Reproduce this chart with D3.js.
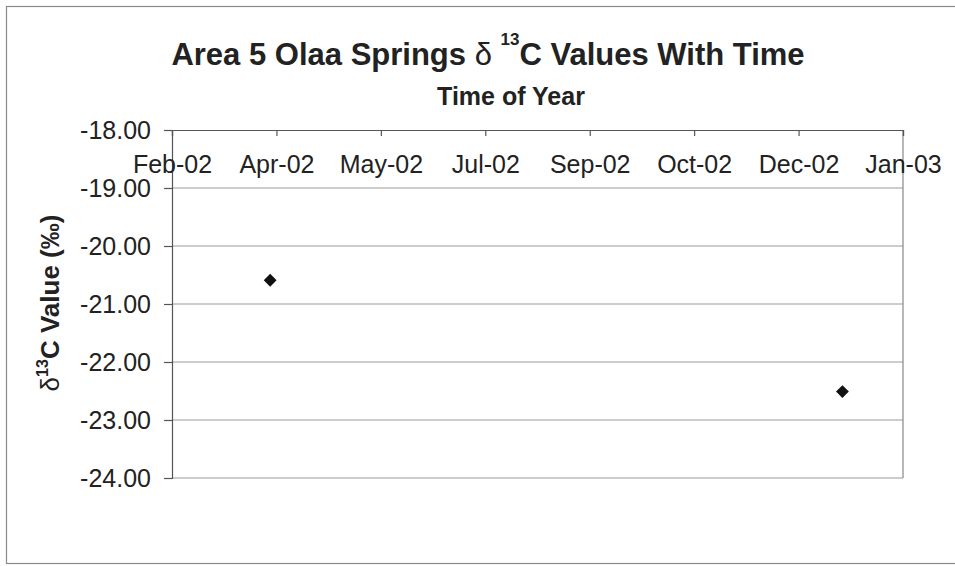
<!DOCTYPE html>
<html>
<head>
<meta charset="utf-8">
<script src="https://cdn.jsdelivr.net/npm/d3@7"></script>
<style>
  body { margin: 0; background: #fff; }
  text { font-family: "Liberation Sans", Arial, sans-serif; fill: #222; }
</style>
</head>
<body>
<div id="chart"></div>
<script>
//Width and height
var w = 955;
var h = 566;
var plot = { left: 172, right: 903, top: 130, bottom: 478 };

//Data
var sampleDates = ["2002-04-02", "2003-01-01"];
var sampleValues = [-20.59, -22.51];

//Axis ticks (Excel date axis, 50 day major unit)
var xTickDates = ["2002-02-14", "2002-04-05", "2002-05-25", "2002-07-14",
                  "2002-09-02", "2002-10-22", "2002-12-11", "2003-01-30"];
var yTicks = [-18, -19, -20, -21, -22, -23, -24];

var parseDate = d3.utcParse("%Y-%m-%d");
var fmtDate = d3.utcFormat("%b-%y");

var dataset = sampleDates.map(function (d, i) {
    return { date: parseDate(d), value: sampleValues[i] };
});
var xTicks = xTickDates.map(parseDate);

//Scales
var xScale = d3.scaleUtc()
    .domain([xTicks[0], xTicks[xTicks.length - 1]])
    .range([plot.left, plot.right]);

var yScale = d3.scaleLinear()
    .domain([-24, -18])
    .range([plot.bottom, plot.top]);

var svg = d3.select("#chart")
    .append("svg")
    .attr("width", w)
    .attr("height", h);

//Chart area border (right edge runs off the page)
svg.append("rect")
    .attr("x", 6.5)
    .attr("y", 6.5)
    .attr("width", 1000)
    .attr("height", 557)
    .attr("fill", "none")
    .attr("stroke", "#8a8a8a")
    .attr("stroke-width", 1.2);

//Gridlines
svg.append("g")
    .selectAll("line")
    .data(yTicks.filter(function (d) { return d !== -18; }))
    .enter()
    .append("line")
    .attr("x1", plot.left)
    .attr("x2", plot.right)
    .attr("y1", function (d) { return yScale(d); })
    .attr("y2", function (d) { return yScale(d); })
    .attr("stroke", "#9a9a9a")
    .attr("stroke-width", 1);

//Plot border right
svg.append("line")
    .attr("x1", plot.right).attr("x2", plot.right)
    .attr("y1", plot.top).attr("y2", plot.bottom)
    .attr("stroke", "#888").attr("stroke-width", 1.2);

//Y axis
var yAxis = d3.axisLeft(yScale)
    .tickValues(yTicks)
    .tickSize(8)
    .tickPadding(13)
    .tickFormat(d3.format(".2f"));

var gy = svg.append("g")
    .attr("class", "y axis")
    .attr("transform", "translate(" + plot.left + ",0)")
    .call(yAxis);
gy.select(".domain").attr("stroke", "#555").attr("stroke-width", 1.2);
gy.selectAll(".tick line").attr("stroke", "#555").attr("stroke-width", 1.2);
gy.selectAll("text")
    .attr("font-size", "25px")
    .attr("fill", "#222")
    .text(function (d) { return d3.format(".2f")(d).replace("−", "-"); });

//X axis along the top, labels sit inside the plot
var xAxis = d3.axisTop(xScale)
    .tickValues(xTicks)
    .tickSize(-6)
    .tickFormat(fmtDate);

var gx = svg.append("g")
    .attr("class", "x axis")
    .attr("transform", "translate(0," + plot.top + ")")
    .call(xAxis);
gx.select(".domain").attr("stroke", "#555").attr("stroke-width", 1.2);
gx.selectAll(".tick line").attr("stroke", "#555").attr("stroke-width", 1.2);
gx.selectAll("text")
    .attr("font-size", "25px")
    .attr("fill", "#222")
    .attr("y", 43)
    .attr("dy", 0);

//Markers
svg.append("g")
    .selectAll("path")
    .data(dataset)
    .enter()
    .append("path")
    .attr("d", d3.symbol().type(d3.symbolDiamond2).size(105))
    .attr("transform", function (d) {
        return "translate(" + xScale(d.date) + "," + yScale(d.value) + ")";
    })
    .attr("fill", "#111");

//Title
var title = svg.append("text")
    .attr("x", 488)
    .attr("y", 65)
    .attr("text-anchor", "middle")
    .attr("font-size", "31px")
    .attr("font-weight", "bold");
title.append("tspan").text("Area 5 Olaa Springs ");
title.append("tspan").attr("font-weight", "normal").text("δ ");
title.append("tspan").attr("font-size", "17px").attr("dy", -20).text("13");
title.append("tspan").attr("dy", 20).text("C Values With Time");

//X axis title
svg.append("text")
    .attr("x", 511)
    .attr("y", 105)
    .attr("text-anchor", "middle")
    .attr("font-size", "25px")
    .attr("font-weight", "bold")
    .text("Time of Year");

//Y axis title
var ylab = svg.append("text")
    .attr("transform", "translate(59,303) rotate(-90)")
    .attr("text-anchor", "middle")
    .attr("font-size", "26px")
    .attr("font-weight", "bold");
ylab.append("tspan").attr("font-weight", "normal").text("δ");
ylab.append("tspan").attr("font-size", "16px").attr("dy", -11).text("13");
ylab.append("tspan").attr("dy", 11).text("C Value (‰)");
</script>
</body>
</html>
